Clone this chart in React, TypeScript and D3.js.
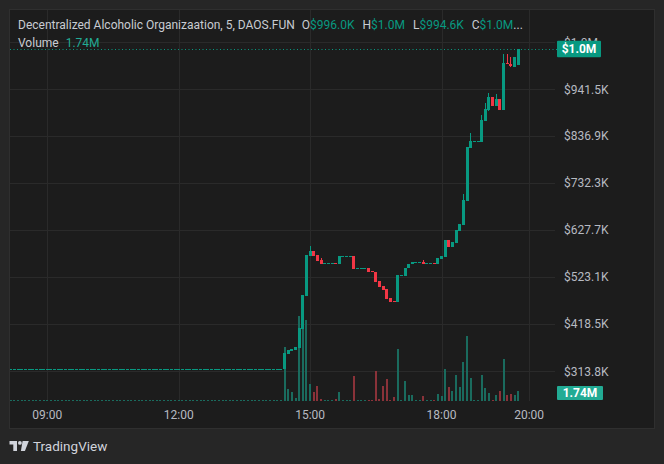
import React from 'react';
import * as d3 from 'd3';

// ---------- data ----------
const priceTicks = [313.8, 418.5, 523.1, 627.7, 732.3, 836.9, 941.5, 1046.1];
const priceTickLabels = ['$313.8K', '$418.5K', '$523.1K', '$627.7K', '$732.3K', '$836.9K', '$941.5K', '$1.0M'];
const timeTicks = ['09:00', '12:00', '15:00', '18:00', '20:00'];

// flat pre-launch 5-minute candles, 08:10 .. 14:20
const preLaunchStart = '08:10';
const preLaunchPrice = [
  318.4, 318.4, 318.4, 318.4, 318.4, 318.4, 318.4, 318.4, 318.4, 318.4,
  318.4, 318.4, 318.4, 318.4, 318.4, 318.4, 318.4, 318.4, 318.4, 318.4,
  318.4, 318.4, 318.4, 318.4, 318.4, 318.4, 318.4, 318.4, 318.4, 318.4,
  318.4, 318.4, 318.4, 318.4, 318.4, 318.4, 318.4, 318.4, 318.4, 318.4,
  318.4, 318.4, 318.4, 318.4, 318.4, 318.4, 318.4, 318.4, 318.4, 318.4,
  318.4, 318.4, 318.4, 318.4, 318.4, 318.4, 318.4, 318.4, 318.4, 318.4,
  318.4, 318.4, 318.4, 318.4, 318.4, 318.4, 318.4, 318.4, 318.4, 318.4,
  318.4, 318.4, 318.4, 318.4, 318.4,
];
const preLaunchVolume = [
  0.05, 0.05, 0.05, 0.05, 0.05, 0.05, 0.05, 0.05, 0.05, 0.05,
  0.05, 0.05, 0.05, 0.05, 0.05, 0.05, 0.05, 0.05, 0.05, 0.05,
  0.05, 0.05, 0.05, 0.05, 0.05, 0.05, 0.05, 0.05, 0.05, 0.05,
  0.05, 0.05, 0.05, 0.05, 0.05, 0.05, 0.05, 0.05, 0.05, 0.05,
  0.05, 0.05, 0.05, 0.05, 0.05, 0.05, 0.05, 0.05, 0.05, 0.05,
  0.05, 0.05, 0.05, 0.05, 0.05, 0.05, 0.05, 0.05, 0.05, 0.05,
  0.05, 0.05, 0.05, 0.05, 0.05, 0.05, 0.05, 0.05, 0.05, 0.05,
  0.05, 0.05, 0.05, 0.05, 0.05,
];

// trading 5-minute candles from 14:25 (values in $K, volume in M)
const sessionStart = '14:25';
const candleOpen = [
  318.4, 352.4, 359.1, 361.3, 366.4, 408.0, 482.2, 571.2, 581.6, 572.7,
  561.6, 554.9, 554.9, 554.9, 555.2, 553.4, 570.5, 570.5, 570.5, 570.5,
  543.1, 543.1, 543.1, 543.1, 536.8, 534.9, 514.9, 504.4, 497.1, 477.0,
  469.9, 468.8, 528.2, 526.7, 543.1, 552.0, 557.2, 557.2, 557.8, 554.3,
  554.3, 554.6, 553.4, 563.8, 568.3, 606.1, 591.2, 600.1, 626.8, 639.5,
  693.6, 810.9, 826.4, 826.4, 824.9, 871.6, 895.4, 924.4, 904.3, 919.9,
  895.4, 1000.0, 998.5, 991.8, 996.2,
];
const candleHigh = [
  354.6, 361.3, 363.6, 368.0, 410.9, 483.7, 572.7, 592.8, 581.6, 572.7,
  566.1, 554.9, 554.9, 554.9, 555.2, 570.5, 570.5, 570.5, 570.5, 570.5,
  543.1, 543.1, 543.1, 543.1, 536.8, 534.9, 514.9, 504.4, 497.1, 477.0,
  469.9, 528.9, 528.2, 543.8, 553.4, 557.2, 557.2, 557.2, 561.6, 554.3,
  554.3, 554.6, 566.1, 570.5, 606.1, 606.1, 601.7, 628.4, 641.7, 708.5,
  813.8, 843.6, 826.4, 826.4, 884.3, 911.0, 933.3, 924.4, 931.0, 919.9,
  1020.1, 1020.1, 1013.4, 1013.4, 1031.2,
];
const candleLow = [
  318.4, 352.4, 359.1, 361.3, 366.4, 408.0, 482.2, 571.2, 571.2, 559.4,
  553.4, 554.9, 554.9, 554.9, 554.6, 553.4, 570.5, 570.5, 570.5, 542.2,
  543.1, 543.1, 543.1, 535.6, 536.3, 513.3, 502.2, 495.5, 474.8, 468.8,
  469.4, 468.8, 528.2, 526.7, 543.1, 552.0, 557.2, 557.2, 553.4, 554.3,
  554.3, 554.1, 553.4, 563.8, 568.3, 591.2, 591.2, 600.1, 626.8, 639.5,
  693.6, 810.9, 826.4, 826.4, 824.9, 871.6, 893.2, 904.3, 904.3, 895.4,
  895.4, 998.5, 991.8, 991.8, 994.6,
];
const candleClose = [
  354.6, 361.3, 363.6, 368.0, 410.9, 483.7, 572.7, 581.6, 571.2, 559.4,
  553.4, 554.9, 554.9, 554.9, 554.6, 570.5, 570.5, 570.5, 570.5, 542.2,
  543.1, 543.1, 543.1, 535.6, 536.3, 513.3, 502.2, 495.5, 474.8, 468.8,
  469.4, 528.9, 528.2, 543.8, 553.4, 557.2, 557.2, 557.2, 553.4, 554.3,
  554.3, 554.1, 566.1, 570.5, 606.1, 591.2, 601.7, 628.4, 641.7, 695.1,
  813.8, 826.4, 826.4, 826.4, 873.2, 897.7, 925.0, 904.3, 919.9, 895.4,
  1000.0, 998.5, 994.0, 1013.4, 1031.2,
];
const candleVolume = [
  9.4, 2.1, 1.6, 0.5, 14.8, 16.5, 14.1, 3.0, 1.6, 2.6,
  0.35, 0.05, 0.05, 0.05, 0.35, 1.6, 0.05, 0.05, 0.05, 4.3,
  0.05, 0.05, 0.05, 0.2, 0.15, 5.2, 0.35, 2.6, 3.8, 0.15,
  0.7, 9.0, 0.05, 3.5, 1.0, 1.0, 0.05, 0.05, 0.9, 0.05,
  0.05, 0.15, 1.2, 0.9, 5.6, 2.4, 1.7, 4.5, 2.4, 6.8,
  11.3, 4.0, 0.05, 0.05, 4.5, 2.3, 1.4, 0.2, 1.0, 1.7,
  7.3, 1.0, 1.2, 1.0, 1.74,
];

const headerTitle = 'Decentralized Alcoholic Organizaation, 5, DAOS.FUN';
const ohlcLabels = ['O', 'H', 'L', 'C'];
const ohlcValues = ['$996.0K', '$1.0M', '$994.6K', '$1.0M'];
const volumeValue = '1.74M';
const lastPriceLabel = '$1.0M';

const W = 664;
const H = 464;
const UP = '#089981';
const DOWN = '#f23645';
const VOL_UP = '#1a6b5e';
const VOL_DOWN = '#8a3239';
const GRID = '#2a2a2a';
const TEXT = '#b7bac1';
const HEAD = '#c9ccd2';
const FONT = 'Roboto, "Noto Sans", sans-serif';

type Candle = { t: Date; o: number; h: number; l: number; c: number; v: number };

export default function App() {
  const parse = d3.timeParse('%H:%M');
  const x = d3.scaleTime().domain([parse('09:00')!, parse('20:00')!]).range([47.3, 529.1]);
  const y = d3.scaleLinear().domain([313.8, 941.5]).range([371.3, 89.3]);
  const yv = d3.scaleLinear().domain([0, 12]).range([401, 332]);

  const candles: Candle[] = [];
  const p0 = parse(preLaunchStart)!;
  preLaunchPrice.forEach((p, i) => {
    candles.push({ t: d3.timeMinute.offset(p0, 5 * i), o: p, h: p, l: p, c: p, v: preLaunchVolume[i] });
  });
  const s0 = parse(sessionStart)!;
  candleOpen.forEach((o, i) => {
    candles.push({
      t: d3.timeMinute.offset(s0, 5 * i),
      o,
      h: candleHigh[i],
      l: candleLow[i],
      c: candleClose[i],
      v: candleVolume[i],
    });
  });

  const last = candles[candles.length - 1];
  const plotL = 10, plotR = 555, plotT = 10, plotB = 401;
  const lastY = y(last.c);
  const lastVolY = 393;

  return (
    <svg width={W} height={H} style={{ position: 'fixed', left: 0, top: 0, display: 'block' }} fontFamily={FONT}>
      <defs>
        <clipPath id="plot">
          <rect x={plotL} y={plotT} width={plotR - plotL} height={plotB - plotT} />
        </clipPath>
      </defs>
      <rect x={0} y={0} width={W} height={H} fill="#262626" />
      <rect x={9.5} y={9.5} width={645} height={419} fill="#1c1c1c" stroke="#2f2f2f" strokeWidth={1} />

      {/* grid */}
      <g shapeRendering="crispEdges">
        {priceTicks.map((v, i) => (
          <line key={'hg' + i} x1={plotL} x2={plotR} y1={Math.round(y(v)) + 0.5} y2={Math.round(y(v)) + 0.5} stroke={GRID} />
        ))}
        {timeTicks.map((t, i) => {
          const xx = Math.round(x(parse(t)!)) + 0.5;
          return <line key={'vg' + i} x1={xx} x2={xx} y1={plotT} y2={plotB} stroke={GRID} />;
        })}
      </g>

      <g clipPath="url(#plot)" shapeRendering="crispEdges">
        {/* volume */}
        {candles.map((d, i) => {
          const cx = x(d.t);
          const top = Math.min(yv(d.v), plotB - 1);
          return (
            <rect key={'v' + i} x={Math.round(cx - 1)} y={top} width={2} height={plotB - top}
              fill={d.c >= d.o ? VOL_UP : VOL_DOWN} />
          );
        })}
        {/* candles */}
        {candles.map((d, i) => {
          const cx = x(d.t);
          const bx = Math.round(cx - 1.5);
          const col = d.c >= d.o ? UP : DOWN;
          const top = y(Math.max(d.o, d.c));
          const bot = y(Math.min(d.o, d.c));
          const bh = Math.max(1, bot - top);
          return (
            <g key={'c' + i}>
              {d.h > d.l && (
                <rect x={bx + 1} y={y(d.h)} width={1} height={y(d.l) - y(d.h)} fill={col} />
              )}
              <rect x={bx} y={top} width={3} height={bh} fill={col} />
            </g>
          );
        })}
      </g>

      {/* last price line */}
      <line x1={plotL} x2={557} y1={Math.round(lastY) + 0.5} y2={Math.round(lastY) + 0.5}
        stroke={UP} strokeWidth={1} strokeDasharray="1 2.5" />

      {/* price axis labels */}
      {priceTicks.map((v, i) => (
        <text key={'pl' + i} x={564} y={y(v)} dy="0.35em" fontSize={12} fill={TEXT}>{priceTickLabels[i]}</text>
      ))}

      {/* badges */}
      <rect x={557} y={lastY - 8.3} width={44} height={16.6} rx={1} fill={UP} />
      <text x={579} y={lastY} dy="0.36em" fontSize={12} fontWeight="bold" fill="#ffffff" textAnchor="middle">{lastPriceLabel}</text>
      <rect x={557} y={lastVolY - 7} width={46} height={14} rx={1} fill="#22ab94" />
      <text x={580} y={lastVolY} dy="0.36em" fontSize={12} fontWeight="bold" fill="#ffffff" textAnchor="middle">{volumeValue}</text>

      {/* time axis */}
      {timeTicks.map((t, i) => (
        <text key={'tl' + i} x={x(parse(t)!)} y={414.5} dy="0.35em" fontSize={12} fill={TEXT} textAnchor="middle">{t}</text>
      ))}

      {/* header */}
      <text x={18} y={25} dy="0.35em" fontSize={12} fill={HEAD}>
        <tspan>{headerTitle}</tspan>
        {ohlcLabels.map((lab, i) => (
          <React.Fragment key={'ohlc' + i}>
            <tspan dx={i === 0 ? 7 : 8} fill={HEAD}>{lab}</tspan>
            <tspan fill={UP}>{ohlcValues[i]}</tspan>
          </React.Fragment>
        ))}
        <tspan fill={HEAD}>...</tspan>
      </text>
      <text x={18} y={42.5} dy="0.35em" fontSize={12} fill={HEAD}>
        <tspan>Volume</tspan>
        <tspan dx={7} fill="#22ab94">{volumeValue}</tspan>
      </text>

      {/* TradingView logo */}
      <g fill="#d1d4dc">
        <path d="M9.5 441 H17 V451 H13.3 V444.6 H9.5 Z" />
        <circle cx={19.9} cy={442.9} r={1.9} />
        <path d="M22.6 441 H28.8 L24.9 451 H20.9 Z" />
        <text x={33} y={446.5} dy="0.35em" fontSize={13.5} fill="#d1d4dc">TradingView</text>
      </g>
    </svg>
  );
}
